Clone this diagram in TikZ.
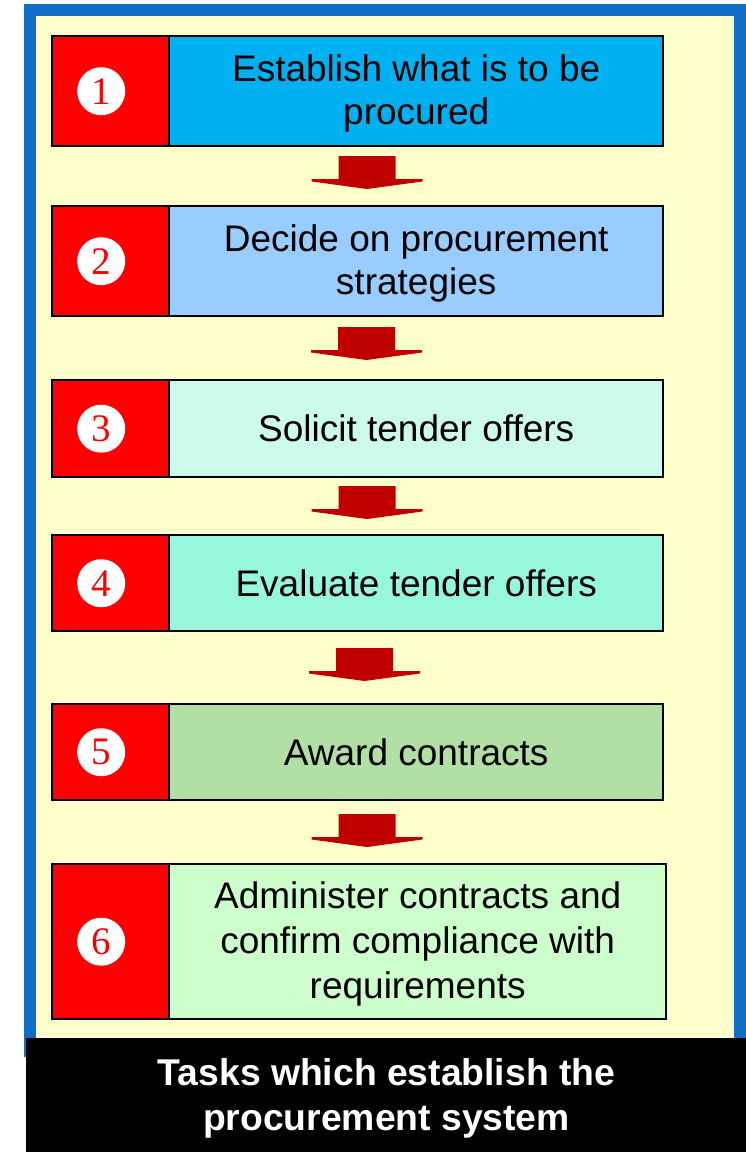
\documentclass[tikz,border=0pt]{standalone}
\usepackage{fontspec}
\setmainfont{Liberation Sans}
\newfontfamily\digitfont{Liberation Serif}
\definecolor{frameblue}{HTML}{1170C6}
\definecolor{bgyellow}{HTML}{FFFFCC}
\definecolor{boxred}{HTML}{FF0000}
\definecolor{arrowred}{HTML}{C00000}
\definecolor{cA}{HTML}{00B0F0}
\definecolor{cB}{HTML}{99CCFF}
\definecolor{cC}{HTML}{CCFBEA}
\definecolor{cD}{HTML}{96F7DC}
\definecolor{cE}{HTML}{B2DFA3}
\definecolor{cF}{HTML}{CCFFCC}
\tikzset{
  numbox/.style={draw=black, line width=2.4pt, fill=boxred, minimum width=117pt,
    inner sep=0pt, anchor=north west},
  taskbox/.style={draw=black, line width=2.4pt, minimum width=494pt, inner sep=0pt,
    anchor=north west, align=center, text=black, font=\fontsize{37}{43}\selectfont},
  numdisc/.style={circle, fill=white, minimum size=48pt, inner sep=0pt, text=boxred,
    font=\digitfont\fontsize{39}{39}\selectfont},
  downarrow/.pic={
    \fill[arrowred] (-28.5,0) -- (28.5,0) -- (28.5,23) -- (55.5,23) -- (55.5,25.5)
      -- (0,33) -- (-55.5,25.5) -- (-55.5,23) -- (-28.5,23) -- cycle;
  }
}
\begin{document}
\begin{tikzpicture}[x=1pt,y=-1pt]
\useasboundingbox (0,0) rectangle (746,1152);
% frame and background
\fill[frameblue] (24,4) rectangle (746,1057);
\fill[bgyellow] (36,16) rectangle (734,1040);
\node[fill=black, minimum width=720pt, minimum height=114pt, inner sep=0pt,
  anchor=north west] (bar) at (26,1038) {};
\node[text=white, align=center, font=\bfseries\fontsize{37.3}{45}\selectfont]
  (title) at (386.5,1098) {Tasks which establish the\\procurement system};
% step 1
\node[numbox, minimum height=110pt] (n1) at (51,35) {};
\node[taskbox, fill=cA, minimum height=110pt] (t1) at (168,35) {};
\node[align=center, font=\fontsize{37}{43}\selectfont] (l1) at ([yshift=-2pt]t1.center) {Establish what is to be\\procured};
\node[numdisc] (d1) at ([xshift=-9.5pt]n1.center) {1};
% step 2
\node[numbox, minimum height=110pt] (n2) at (51,205) {};
\node[taskbox, fill=cB, minimum height=110pt] (t2) at (168,205) {};
\node[align=center, font=\fontsize{37}{43}\selectfont] (l2) at ([yshift=-2pt]t2.center) {Decide on procurement\\strategies};
\node[numdisc] (d2) at ([xshift=-9.5pt]n2.center) {2};
% step 3
\node[numbox, minimum height=97pt] (n3) at (51,379) {};
\node[taskbox, fill=cC, minimum height=97pt] (t3) at (168,379) {Solicit tender offers};
\node[numdisc] (d3) at ([xshift=-9.5pt]n3.center) {3};
% step 4
\node[numbox, minimum height=96pt] (n4) at (51,534) {};
\node[taskbox, fill=cD, minimum height=96pt] (t4) at (168,534) {Evaluate tender offers};
\node[numdisc] (d4) at ([xshift=-9.5pt]n4.center) {4};
% step 5
\node[numbox, minimum height=96pt] (n5) at (51,703) {};
\node[taskbox, fill=cE, minimum height=96pt] (t5) at (168,703) {Award contracts};
\node[numdisc] (d5) at ([xshift=-9.5pt]n5.center) {5};
% step 6
\node[numbox, minimum height=155pt] (n6) at (51,863) {};
\node[taskbox, fill=cF, minimum height=155pt, minimum width=497pt] (t6) at (168,863) {};
\node[align=center, font=\fontsize{37}{45}\selectfont] (l6) at ([yshift=-2pt]t6.center)
  {Administer contracts and\\confirm compliance with\\requirements};
\node[numdisc] (d6) at ([xshift=-9.5pt]n6.center) {6};
% arrows
\pic at (367,156) {downarrow};
\pic at (366.5,327) {downarrow};
\pic at (367,486) {downarrow};
\pic at (364.5,648) {downarrow};
\pic at (367,814) {downarrow};
\end{tikzpicture}
\end{document}
